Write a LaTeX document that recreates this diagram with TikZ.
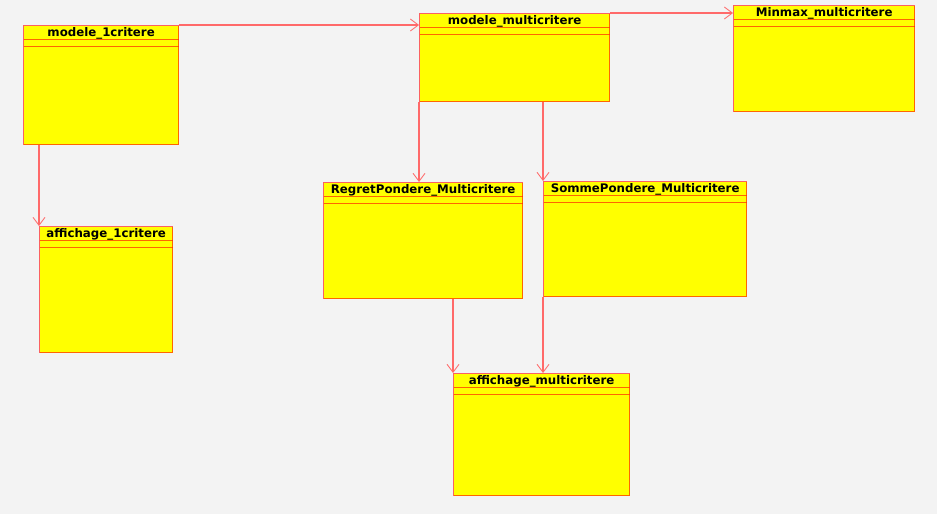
\documentclass[tikz,border=0pt]{standalone}
\usepackage{fontspec}
\setmainfont{DejaVu Sans}
\usepackage{tikz}
\usetikzlibrary{arrows.meta}

\definecolor{umlbg}{RGB}{243,243,243}
\definecolor{umlline}{RGB}{255,0,0}
\definecolor{umledge}{RGB}{255,105,105}
\definecolor{umlfill}{RGB}{255,255,0}

\tikzset{
    umlclass/.style={draw=umlline, draw opacity=.6, fill=umlfill, line width=1.3pt,
        anchor=north west, inner xsep=0pt, inner ysep=0pt, text height=11pt,
        font=\fontsize{11.8pt}{14pt}\selectfont\bfseries,
        path picture={
            \draw[umlline, opacity=.6, line width=1.2pt]
                ([yshift=-14pt]path picture bounding box.north west) -- ([yshift=-14pt]path picture bounding box.north east)
                ([yshift=-21pt]path picture bounding box.north west) -- ([yshift=-21pt]path picture bounding box.north east);
        }},
    uses/.style={draw=umledge, line width=1.05pt,
        -{Straight Barb[length=8pt,width=12pt,line width=.85pt]}}
}

\begin{document}
\begin{tikzpicture}[x=1pt,y=1pt]
    \fill[umlbg] (0,0) rectangle (937,-514);
    \useasboundingbox (0,0) rectangle (937,-514);

        \node [umlclass, minimum width=155pt, text depth=108pt] (m1) at (23,-25) {modele\_1critere};
        \node [umlclass, minimum width=190pt, text depth=77pt] (mm) at (419,-13) {modele\_multicritere};
        \node [umlclass, minimum width=181pt, text depth=95pt] (mx) at (733,-5) {Minmax\_multicritere};
        \node [umlclass, minimum width=133pt, text depth=115pt] (a1) at (39,-226) {affichage\_1critere};
        \node [umlclass, minimum width=199pt, text depth=105pt] (rp) at (323,-182) {RegretPondere\_Multicritere};
        \node [umlclass, minimum width=203pt, text depth=104pt] (sp) at (543,-181) {SommePondere\_Multicritere};
        \node [umlclass, minimum width=176pt, text depth=111pt] (am) at (453,-373) {affichage\_multicritere};

    \path
        (m1.north east) edge[uses] (m1.north east -| mm.west)
        (mm.north east) edge[uses] (mm.north east -| mx.west)
        (a1.north west |- m1.south) edge[uses] (a1.north west)
        (mm.south west) edge[uses] (mm.south west |- rp.north)
        (sp.north west |- mm.south) edge[uses] (sp.north west)
        (am.north west |- rp.south) edge[uses] (am.north west)
        (sp.south west) edge[uses] (sp.south west |- am.north)
        ;
\end{tikzpicture}
\end{document}
